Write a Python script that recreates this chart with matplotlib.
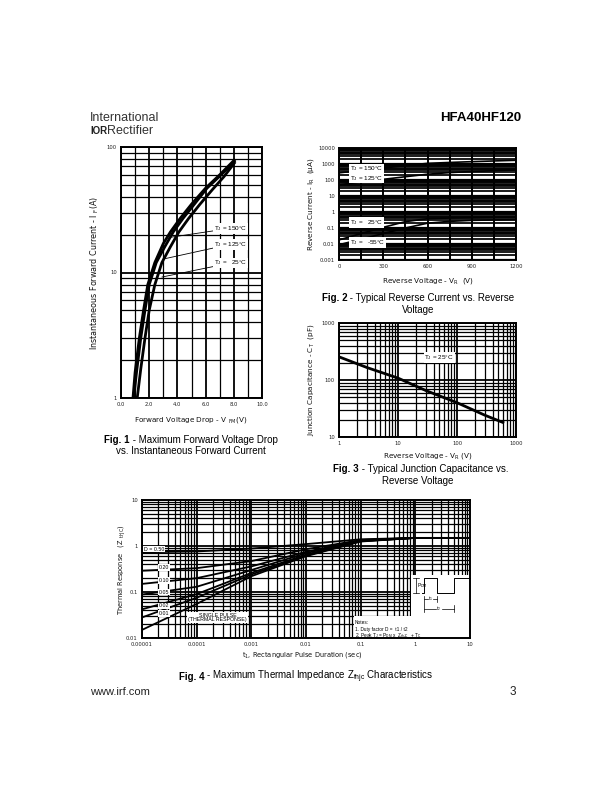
import numpy as np
import matplotlib
matplotlib.use("Agg")
import matplotlib.pyplot as plt
from matplotlib.ticker import FixedLocator, FixedFormatter, NullFormatter
from matplotlib.patches import Rectangle

plt.rcParams['font.family'] = ['Liberation Sans', 'DejaVu Sans']
plt.rcParams['mathtext.default'] = 'regular'

W, H = 612, 792

# Fig. 1 - forward voltage drop vs forward current
vf_150 = [0.85, 1.0, 1.3, 1.6, 1.9, 2.4, 3.0, 3.5, 4.2, 5.0, 6.0, 7.0, 8.1]
if_150 = [1, 1.6, 3, 5, 8, 12, 17, 21, 27, 35, 47, 60, 80]
vf_125 = [0.9, 1.1, 1.4, 1.7, 2.0, 2.5, 3.1, 3.7, 4.4, 5.2, 6.1, 7.1, 8.1]
if_125 = [1, 1.6, 3, 5, 8, 12, 16, 21, 27, 35, 47, 60, 78]
vf_25 = [1.15, 1.4, 1.7, 2.0, 2.4, 2.9, 3.5, 4.1, 4.8, 5.6, 6.5, 7.3, 8.1]
if_25 = [1, 1.7, 3, 5, 8, 12, 16, 21, 27, 35, 46, 58, 76]

# Fig. 2 - reverse current vs reverse voltage
vr = [0, 150, 300, 450, 600, 750, 900, 1050, 1200]
ir_150 = [280, 400, 560, 800, 1100, 1250, 1400, 1550, 1700]
ir_125 = [50, 75, 110, 160, 230, 290, 340, 380, 420]
ir_25 = [0.018, 0.045, 0.11, 0.25, 0.38, 0.42, 0.44, 0.46, 0.48]
ir_m55 = [0.009, 0.02, 0.045, 0.1, 0.2, 0.26, 0.3, 0.32, 0.34]

# Fig. 3 - junction capacitance
vr_cap = [1, 3, 10, 30, 100, 300, 600]
ct = [255, 165, 108, 65, 40, 24, 18]

# Fig. 4 - thermal impedance
t1 = [1e-5, 1e-4, 1e-3, 1e-2, 1e-1, 1, 10]
zth = {
    '0.50': [0.73, 0.76, 0.88, 1.1, 1.4, 1.5, 1.5],
    '0.20': [0.29, 0.33, 0.47, 0.85, 1.35, 1.5, 1.5],
    '0.10': [0.15, 0.2, 0.36, 0.75, 1.32, 1.5, 1.5],
    '0.05': [0.088, 0.13, 0.3, 0.7, 1.3, 1.5, 1.5],
    '0.02': [0.042, 0.09, 0.26, 0.65, 1.28, 1.5, 1.5],
    '0.01': [0.028, 0.075, 0.24, 0.62, 1.27, 1.5, 1.5],
    'single': [0.015, 0.055, 0.22, 0.6, 1.25, 1.5, 1.5],
}

fig = plt.figure(figsize=(W / 100, H / 100), dpi=100)
renderer = fig.canvas.get_renderer()


def px_axes(x0, y0, x1, y1):
    return fig.add_axes([x0 / W, 1 - y1 / H, (x1 - x0) / W, (y1 - y0) / H])


def px_text(x, y, s, **kw):
    return fig.text(x / W, 1 - y / H, s, **kw)


def px_line(xs, ys, lw=0.6):
    fig.add_artist(plt.Line2D([x / W for x in xs], [1 - y / H for y in ys],
                              color='k', lw=lw))


def caption(cx, y, bold, rest):
    # bold "Fig. n" followed by regular text, centred as one line
    a = px_text(0, y, bold, fontsize=7, fontweight='bold', va='center')
    b = px_text(0, y, rest, fontsize=7, va='center')
    wa = a.get_window_extent(renderer).width
    wb = b.get_window_extent(renderer).width
    x0 = cx - (wa + wb) / 2
    a.set_x(x0 / W)
    b.set_x((x0 + wa) / W)


def log_minor(lo, hi):
    return [m * 10.0 ** e for e in range(lo, hi) for m in range(2, 10)]


def style(ax):
    for s in ax.spines.values():
        s.set_linewidth(1.4)
    ax.tick_params(which='both', length=0, labelsize=3.8, pad=3, colors='#222')
    for lab in ax.get_xticklabels() + ax.get_yticklabels():
        lab.set_family('DejaVu Sans')
    ax.grid(which='major', color='k', lw=1.3)
    ax.grid(which='minor', color='k', lw=0.9)
    ax.set_axisbelow(True)


def log_axis(axis, lo, hi, labels):
    majors = [10.0 ** e for e in range(lo, hi + 1)]
    axis.set_major_locator(FixedLocator(majors))
    axis.set_major_formatter(FixedFormatter(labels))
    axis.set_minor_locator(FixedLocator(log_minor(lo, hi)))
    axis.set_minor_formatter(NullFormatter())


label_font = dict(fontsize=5.2, color='#111', family='DejaVu Sans')
box = dict(facecolor='white', edgecolor='none', pad=0.6)

# header
px_text(90, 121, 'International', fontsize=9, color='#333')
px_text(90, 134, 'IOR', fontsize=7, fontweight='bold', color='#222')
px_text(107, 134, 'Rectifier', fontsize=9, color='#333')
px_text(521, 121, 'HFA40HF120', fontsize=9.5, fontweight='bold', ha='right')

# ---------- Fig. 1 ----------
ax1 = px_axes(121, 147, 262, 398)
ax1.set_yscale('log')
ax1.set_xlim(0, 10)
ax1.set_ylim(1, 100)
ax1.xaxis.set_major_locator(FixedLocator([0, 2, 4, 6, 8, 10]))
ax1.xaxis.set_major_formatter(FixedFormatter(['0.0', '2.0', '4.0', '6.0', '8.0', '10.0']))
ax1.xaxis.set_minor_locator(FixedLocator([1, 3, 5, 7, 9]))
log_axis(ax1.yaxis, 0, 2, ['1', '10', '100'])
style(ax1)
for v, i in [(vf_150, if_150), (vf_125, if_125), (vf_25, if_25)]:
    ax1.plot(v, i, color='k', lw=2.0, solid_capstyle='butt')
for txt, tip, lab in [('T$_J$ = 150°C', (3.4, 19), (6.6, 22.5)),
                      ('T$_J$ = 125°C', (3.0, 12.8), (6.6, 16.8)),
                      ('T$_J$ =   25°C', (2.9, 9.2), (6.6, 11.9))]:
    ax1.annotate(txt, xy=tip, xytext=lab, fontsize=4.6, va='center', ha='left',
                 bbox=box, arrowprops=dict(arrowstyle='-', lw=0.6, color='k',
                                           shrinkA=0, shrinkB=0))
px_text(191, 420, 'Forward Voltage Drop - V $_{FM}$(V)', ha='center', va='center', **label_font)
fl = dict(label_font, fontsize=5.8)
px_text(95, 273, 'Instantaneous Forward Current - I $_F$(A)', rotation=90,
        ha='center', va='center', **fl)
caption(191, 440, 'Fig. 1', ' - Maximum Forward Voltage Drop')
px_text(191, 451, 'vs. Instantaneous Forward Current', fontsize=7, ha='center', va='center')

# ---------- Fig. 2 ----------
ax2 = px_axes(339, 148, 516, 260)
ax2.set_yscale('log')
ax2.set_xlim(0, 1200)
ax2.set_ylim(0.001, 10000)
ax2.xaxis.set_major_locator(FixedLocator([0, 300, 600, 900, 1200]))
ax2.xaxis.set_minor_locator(FixedLocator([150, 450, 750, 1050]))
log_axis(ax2.yaxis, -3, 4, ['0.001', '0.01', '0.1', '1', '10', '100', '1000', '10000'])
style(ax2)
ax2.grid(which='minor', axis='y', color='k', lw=1.25)
ax2.grid(which='major', axis='y', color='k', lw=1.6)
ax2.grid(which='both', axis='x', color='k', lw=1.4)
for i in [ir_150, ir_125, ir_25, ir_m55]:
    ax2.plot(vr, i, color='k', lw=1.2)
for txt, y in [('T$_J$ = 150°C', 500), ('T$_J$ = 125°C', 130),
               ('T$_J$ =   25°C', 0.22), ('T$_J$ =   -55°C', 0.012)]:
    ax2.text(75, y, txt, fontsize=4.6, va='center', ha='left', bbox=box)
px_text(428, 281, 'Reverse Voltage - V$_R$  (V)', ha='center', va='center', **label_font)
px_text(311, 204, 'Reverse Current - I$_R$  (µA)', rotation=90, ha='center', va='center', **label_font)
caption(418, 298, 'Fig. 2', ' - Typical Reverse Current vs. Reverse')
px_text(418, 310, 'Voltage', fontsize=7, ha='center', va='center')

# ---------- Fig. 3 ----------
ax3 = px_axes(339, 323, 516, 437)
ax3.set_xscale('log')
ax3.set_yscale('log')
ax3.set_xlim(1, 1000)
ax3.set_ylim(10, 1000)
log_axis(ax3.xaxis, 0, 3, ['1', '10', '100', '1000'])
log_axis(ax3.yaxis, 1, 3, ['10', '100', '1000'])
style(ax3)
ax3.plot(vr_cap, ct, color='k', lw=2.0)
ax3.text(28, 250, 'T$_J$ = 25°C', fontsize=4.6, va='center', ha='left', bbox=box)
px_text(428, 456, 'Reverse Voltage - V$_R$ (V)', ha='center', va='center', **label_font)
px_text(311, 380, 'Junction Capacitance - C$_T$  (pF)', rotation=90, ha='center', va='center', **label_font)
caption(421, 469, 'Fig. 3', ' - Typical Junction Capacitance vs.')
px_text(418, 481, 'Reverse Voltage', fontsize=7, ha='center', va='center')

# ---------- Fig. 4 ----------
ax4 = px_axes(142, 500, 470, 638)
ax4.set_xscale('log')
ax4.set_yscale('log')
ax4.set_xlim(1e-5, 10)
ax4.set_ylim(0.01, 10)
log_axis(ax4.xaxis, -5, 1, ['0.00001', '0.0001', '0.001', '0.01', '0.1', '1', '10'])
log_axis(ax4.yaxis, -2, 1, ['0.01', '0.1', '1', '10'])
style(ax4)
ax4.add_patch(Rectangle((0.82, 0), 0.18, 0.46, transform=ax4.transAxes,
                        facecolor='white', edgecolor='none', zorder=1.5))
ax4.add_patch(Rectangle((0.645, 0), 0.2, 0.16, transform=ax4.transAxes,
                        facecolor='white', edgecolor='none', zorder=1.5))
for key, z in zth.items():
    ax4.plot(t1, z, color='k', lw=1.3, zorder=3)
for key, y in [('D = 0.50', 0.86), ('0.20', 0.34), ('0.10', 0.175),
               ('0.05', 0.1), ('0.02', 0.05), ('0.01', 0.034)]:
    ax4.text(2.0e-5 if key != 'D = 0.50' else 1.1e-5, y, key, fontsize=3.8,
             va='center', ha='left', bbox=box, zorder=4)
ax4.text(2.4e-4, 0.028, 'SINGLE PULSE\n(THERMAL RESPONSE)', fontsize=3.8,
         ha='center', va='center', linespacing=0.9, bbox=box, zorder=4)
notes = ['Notes:', '1. Duty factor D =  t1 / t2',
         '2. Peak T$_J$ = P$_{DM}$ x  Z$_{thJC}$  + T$_C$']
for k, line in enumerate(notes):
    px_text(355, 622 + 7 * k, line, fontsize=3.4, ha='left', va='center')

# pulse sketch
px_line([422, 424, 424, 437, 437, 454, 454, 470], [593, 593, 578, 578, 593, 593, 578, 578], lw=0.7)
px_line([416, 416], [578, 593], lw=0.5)
px_line([413, 419], [578, 578], lw=0.5)
px_line([413, 419], [593, 593], lw=0.5)
px_text(417, 586, 'P$_{DM}$', fontsize=3.6, ha='left', va='center')
px_line([424, 424], [596, 612], lw=0.5)
px_line([437, 437], [596, 602], lw=0.5)
px_line([454, 454], [605, 612], lw=0.5)
px_line([424, 428], [599, 599], lw=0.5)
px_line([433, 437], [599, 599], lw=0.5)
px_text(430.5, 599, 't$_1$', fontsize=3.4, ha='center', va='center')
px_line([424, 436], [609, 609], lw=0.5)
px_line([442, 454], [609, 609], lw=0.5)
px_text(439, 609, 't$_2$', fontsize=3.4, ha='center', va='center')

px_text(302, 655, 't$_1$, Rectangular Pulse Duration (sec)', ha='center', va='center',
        **dict(label_font, fontsize=4.8))
px_text(122, 570, 'Thermal Response   (Z $_{thJC}$)', rotation=90, ha='center', va='center',
        **dict(label_font, fontsize=4.8))
caption(306, 677, 'Fig. 4', ' - Maximum Thermal Impedance Z$_{thjc}$ Characteristics')

# footer
px_text(90, 692, 'www.irf.com', fontsize=8, va='center', color='#222')
px_text(516, 692, '3', fontsize=8.5, va='center', ha='right', color='#222')

fig.savefig('out.png', dpi=100)
